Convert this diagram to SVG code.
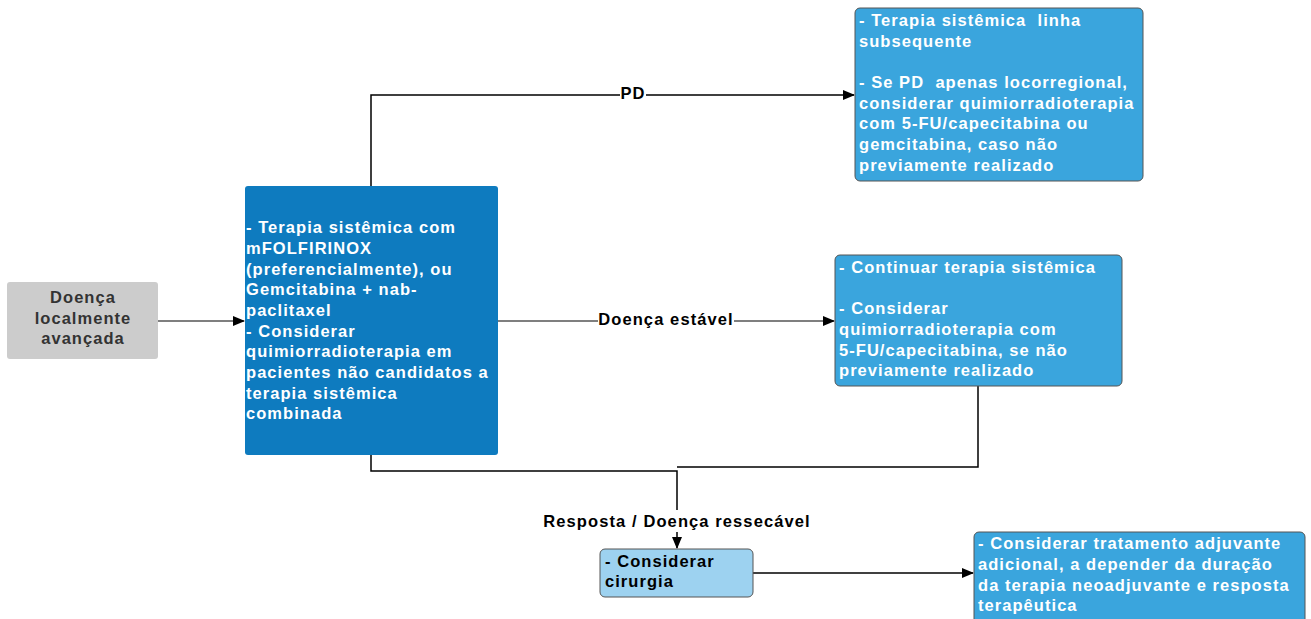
<svg xmlns="http://www.w3.org/2000/svg" width="1311" height="619" viewBox="0 0 1311 619">
<defs>
<marker id="arr" markerWidth="12" markerHeight="10" refX="11" refY="5" orient="auto" markerUnits="userSpaceOnUse">
<path d="M0,0 L12,5 L0,10 Z" fill="#000"/>
</marker>
<style>
.t{font-family:"Liberation Sans",Arial,sans-serif;font-weight:bold;font-size:16.5px;letter-spacing:1.05px}
.w{fill:#fff}
.k{fill:#000}
.g{fill:#333}
.ln{fill:none;stroke:#000;stroke-width:1.5}
.lg{fill:none;stroke:#555;stroke-width:1.5}
.lbl{font-family:"Liberation Sans",Arial,sans-serif;font-weight:bold;font-size:16.5px;letter-spacing:1.1px;fill:#000}
</style>
</defs>
<rect width="1311" height="619" fill="#fff"/>
<g id="connectors">
<path class="lg" d="M158,321 H244" marker-end="url(#arr)"/>
<path class="ln" d="M371,186 V95 H854" marker-end="url(#arr)"/>
<path class="lg" d="M498,321 H834" marker-end="url(#arr)"/>
<path class="ln" d="M371,455 V471 H677 V548" marker-end="url(#arr)"/>
<path class="ln" d="M978,386 V467 H677"/>
<path class="ln" d="M753,573 H973" marker-end="url(#arr)"/>
<rect x="620" y="84" width="26" height="20" fill="#fff"/>
<text class="lbl" x="633" y="99" text-anchor="middle">PD</text>
<rect x="598" y="310" width="136" height="20" fill="#fff"/>
<text class="lbl" x="666" y="325" text-anchor="middle">Doença estável</text>
<rect x="541" y="510" width="271" height="22" fill="#fff"/>
<text class="lbl" x="677" y="527" text-anchor="middle">Resposta / Doença ressecável</text>
</g>
<g id="n_doenca">
<rect x="7" y="282" width="151" height="77" rx="3" fill="#cccccc"/>
<text class="t g" text-anchor="middle"><tspan x="83" y="303">Doença</tspan><tspan x="83" y="324">localmente</tspan><tspan x="83" y="344">avançada</tspan></text>
</g>
<g id="n_main">
<rect x="245" y="186" width="253" height="269" rx="3" fill="#0e7bbf"/>
<text class="t w"><tspan x="246" y="233">- Terapia sistêmica com</tspan><tspan x="246" y="254">mFOLFIRINOX</tspan><tspan x="246" y="275">(preferencialmente), ou</tspan><tspan x="246" y="295">Gemcitabina + nab-</tspan><tspan x="246" y="316">paclitaxel</tspan><tspan x="246" y="337">- Considerar</tspan><tspan x="246" y="357">quimiorradioterapia em</tspan><tspan x="246" y="378">pacientes não candidatos a</tspan><tspan x="246" y="399">terapia sistêmica</tspan><tspan x="246" y="419">combinada</tspan></text>
</g>
<g id="n_pd">
<rect x="855" y="8" width="288" height="173" rx="5" fill="#3aa5dd" stroke="#555" stroke-width="1"/>
<text class="t w" xml:space="preserve"><tspan x="859" y="26">- Terapia sistêmica  linha</tspan><tspan x="859" y="47">subsequente</tspan><tspan x="859" y="88">- Se PD  apenas locorregional,</tspan><tspan x="859" y="109">considerar quimiorradioterapia</tspan><tspan x="859" y="129">com 5-FU/capecitabina ou</tspan><tspan x="859" y="150">gemcitabina, caso não</tspan><tspan x="859" y="171">previamente realizado</tspan></text>
</g>
<g id="n_estavel">
<rect x="835" y="255" width="287" height="131" rx="5" fill="#3aa5dd" stroke="#555" stroke-width="1"/>
<text class="t w"><tspan x="839" y="273">- Continuar terapia sistêmica</tspan><tspan x="839" y="314">- Considerar</tspan><tspan x="839" y="335">quimiorradioterapia com</tspan><tspan x="839" y="356">5-FU/capecitabina, se não</tspan><tspan x="839" y="376">previamente realizado</tspan></text>
</g>
<g id="n_cirurgia">
<rect x="600" y="549" width="153" height="48" rx="5" fill="#9dd2f0" stroke="#555" stroke-width="1"/>
<text class="t k"><tspan x="605" y="567">- Considerar</tspan><tspan x="605" y="587">cirurgia</tspan></text>
</g>
<g id="n_adjuvante">
<rect x="974" y="532" width="331" height="100" rx="5" fill="#3aa5dd" stroke="#555" stroke-width="1"/>
<text class="t w"><tspan x="978" y="549">- Considerar tratamento adjuvante</tspan><tspan x="978" y="570">adicional, a depender da duração</tspan><tspan x="978" y="591">da terapia neoadjuvante e resposta</tspan><tspan x="978" y="611">terapêutica</tspan></text>
</g>
</svg>
